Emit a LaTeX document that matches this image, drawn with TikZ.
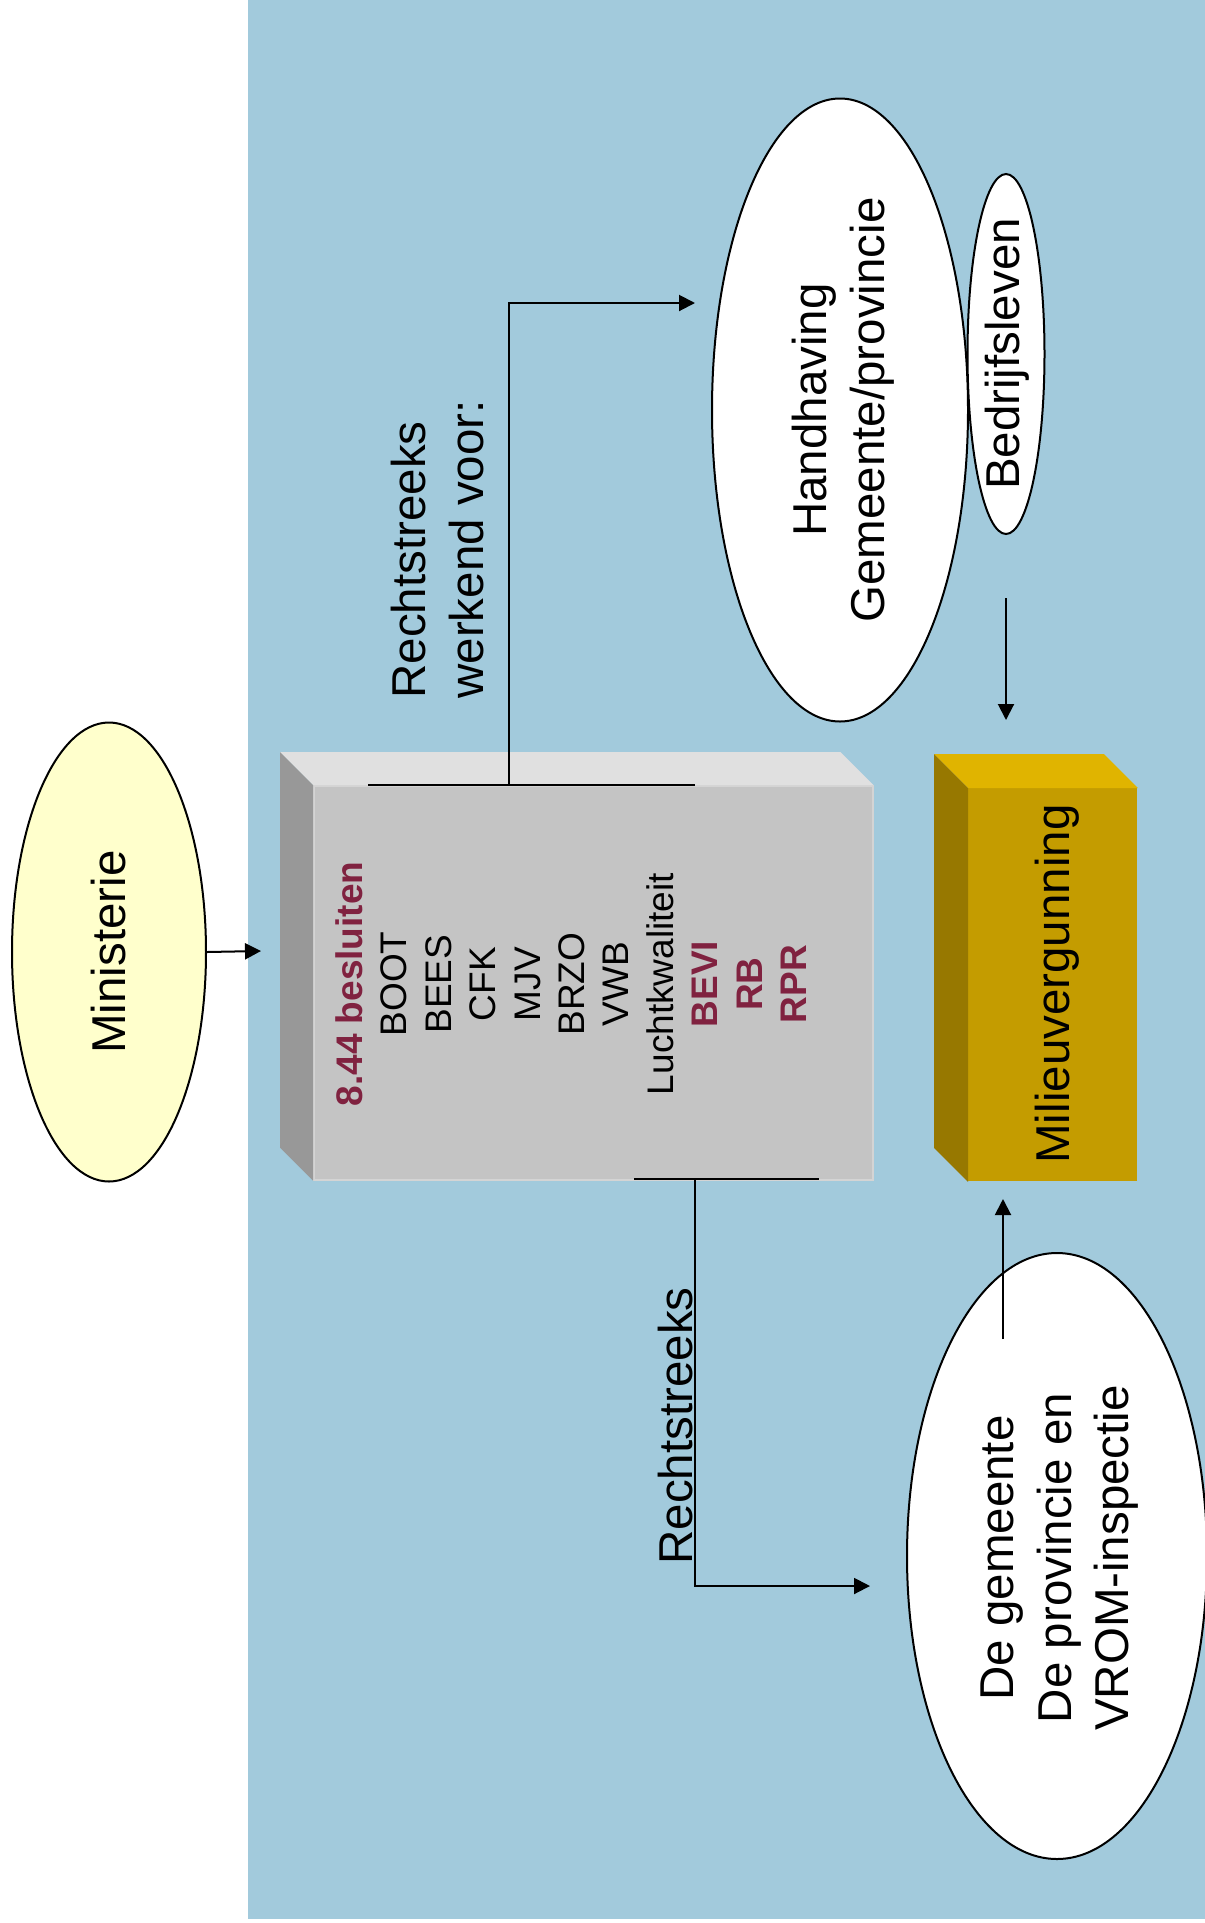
\documentclass[tikz,border=0pt]{standalone}
\usepackage{fontspec}
\setmainfont{Liberation Sans}
\usetikzlibrary{arrows.meta,shapes.geometric}
\definecolor{bgblue}{RGB}{162,202,220}
\definecolor{minyellow}{RGB}{255,255,204}
\definecolor{gfront}{RGB}{196,196,196}
\definecolor{gtop}{RGB}{224,224,224}
\definecolor{gside}{RGB}{152,152,152}
\definecolor{gedge}{RGB}{212,212,212}
\definecolor{ofront}{RGB}{196,156,0}
\definecolor{otop}{RGB}{224,180,0}
\definecolor{oside}{RGB}{151,120,0}
\definecolor{maroon}{RGB}{128,34,64}
\begin{document}
\begin{tikzpicture}[x=0.5pt,y=-0.5pt,
  big/.style={font=\fontsize{23.75}{28.75}\selectfont, align=center, inner sep=0pt, rotate=90},
  small/.style={font=\fontsize{18.5}{22.2}\selectfont, align=center, inner sep=0pt, rotate=90},
  ell/.style={ellipse, draw=black, line width=1pt, inner sep=0pt},
  arr/.style={line width=1pt, -{Triangle[length=8pt,width=8pt]}},
  ln/.style={line width=1pt},
  hot/.style={font=\bfseries, text=maroon}
  ]
\useasboundingbox (0,0) rectangle (1205,1923);
\fill[white] (0,0) rectangle (1205,1923);
\fill[bgblue] (248,0) rectangle (1205,1919);

% Ministerie
\node[ell, fill=minyellow, minimum width=97pt, minimum height=229.5pt] (min) at (109,952) {};
\node[big] (mintext) at (min.center) {Ministerie};

% grey block
\node[rectangle, fill=gfront, draw=gedge, line width=0.75pt, minimum width=279.5pt, minimum height=197pt, anchor=north west, inner sep=0pt] (gbox) at (313,785) {};
\fill[gtop] (gbox.north west) -- ++(-33,-33) -- ([shift={(-33,-33)}]gbox.north east) -- (gbox.north east) -- cycle;
\fill[gside] (gbox.north west) -- ++(-33,-33) -- ([shift={(-33,-33)}]gbox.south west) -- (gbox.south west) -- cycle;
\node[small] (glist) at (571,984) {{\bfseries\color{maroon}8.44 besluiten}\\BOOT\\BEES\\CFK\\MJV\\BRZO\\VWB\\Luchtkwaliteit\\{\bfseries\color{maroon}BEVI}\\{\bfseries\color{maroon}RB}\\{\bfseries\color{maroon}RPR}};

% gold block
\node[rectangle, fill=ofront, minimum width=84.5pt, minimum height=196.5pt, anchor=north west, inner sep=0pt] (obox) at (968,788) {};
\fill[otop] (obox.north west) -- ++(-34,-34) -- ([shift={(-34,-34)}]obox.north east) -- (obox.north east) -- cycle;
\fill[oside] (obox.north west) -- ++(-34,-34) -- ([shift={(-34,-34)}]obox.south west) -- (obox.south west) -- cycle;
\node[big] (otext) at (1057,984) {Milieuvergunning};

% ellipses on the right
\node[ell, fill=white, minimum width=128pt, minimum height=311.5pt] (hh) at (840,410) {};
\node[big] (hhtext) at (843,410) {Handhaving\\Gemeente/provincie};
\node[ell, fill=white, minimum width=38.5pt, minimum height=180pt] (bed) at (1006,354) {};
\node[big] (bedtext) at (1007,354) {Bedrijfsleven};
\node[ell, fill=white, minimum width=150pt, minimum height=303pt] (gem) at (1057,1556) {};
\node[big] (gemtext) at (1060,1558) {De gemeente\\De provincie en\\VROM-inspectie};

% labels
\node[big, anchor=base west] (lab1) at (425,699) {Rechtstreeks};
\node[big, anchor=base west] (lab2) at (483,699) {werkend voor:};
\node[big, anchor=base west] (lab3) at (692,1565) {Rechtstreeks};

% connectors
\coordinate (mintip) at (261,951);
\draw[arr] (min.east) -- (mintip);

\coordinate (tl1) at (368,785);
\coordinate (tl2) at (695,785);
\coordinate (tv) at (509,785);
\coordinate (ttip) at (695,303);
\draw[ln] (tl1) -- (tl2);
\draw[arr] (tv) |- (ttip);

\coordinate (bl1) at (634,1179);
\coordinate (bl2) at (819,1179);
\coordinate (bv) at (695,1179);
\coordinate (btip) at (870,1586);
\draw[ln] (bl1) -- (bl2);
\draw[arr] (bv) |- (btip);

\coordinate (bedstart) at (1006,598);
\coordinate (bedtip) at (1006,720);
\draw[arr] (bedstart) -- (bedtip);

\coordinate (gemstart) at (1003,1339);
\coordinate (gemtip) at (1003,1199);
\draw[arr] (gemstart) -- (gemtip);
\end{tikzpicture}
\end{document}
